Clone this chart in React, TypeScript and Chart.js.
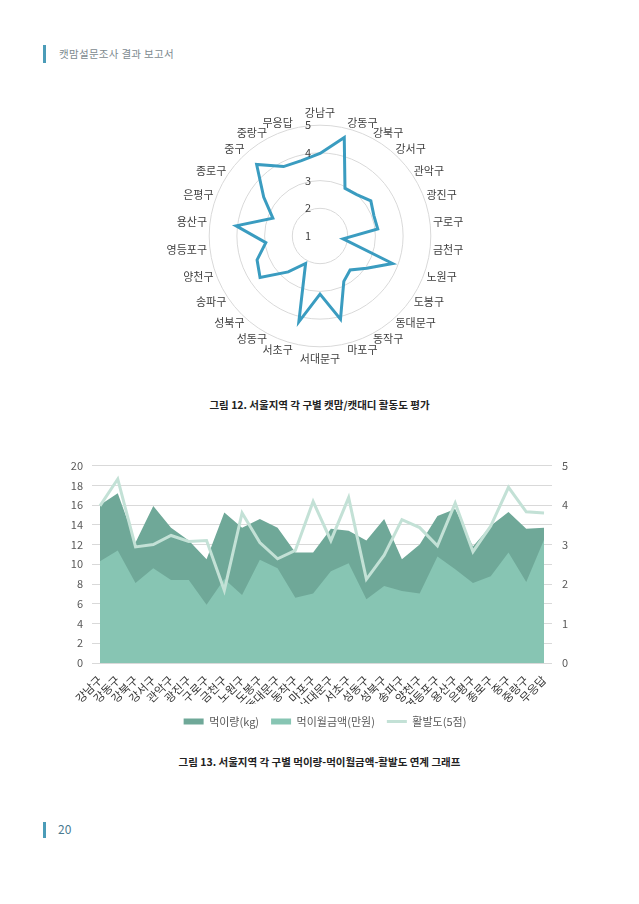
import React, { useEffect, useRef } from "react";
import { Chart, registerables } from "chart.js";

Chart.register(...registerables);

const districts = [
  "강남구", "강동구", "강북구", "강서구", "관악구", "광진구", "구로구", "금천구", "노원구",
  "도봉구", "동대문구", "동작구", "마포구", "서대문구", "서초구", "성동구", "성북구", "송파구",
  "양천구", "영등포구", "용산구", "은평구", "종로구", "중구", "중랑구", "무응답",
];

const feedKg = [
  16.0, 17.2, 12.2, 15.9, 13.7, 12.4, 10.5, 15.25, 13.7, 14.6, 13.7, 11.2, 11.2,
  13.6, 13.4, 12.4, 14.6, 10.5, 12.0, 14.9, 15.6, 11.8, 13.9, 15.3, 13.6, 13.7,
];

const feedCost = [
  10.3, 11.4, 8.1, 9.6, 8.4, 8.4, 5.9, 8.5, 6.9, 10.45, 9.6, 6.6, 7.05,
  9.3, 10.1, 6.45, 7.8, 7.3, 7.05, 10.8, 9.5, 8.1, 8.8, 11.2, 8.2, 12.5,
];

const activity = [
  3.98, 4.66, 2.94, 3.0, 3.23, 3.08, 3.1, 1.84, 3.8, 3.05, 2.64, 2.85, 4.09,
  3.1, 4.19, 2.12, 2.73, 3.63, 3.43, 2.97, 4.05, 2.82, 3.47, 4.45, 3.83, 3.8,
];

const radarTicks = [1, 2, 3, 4, 5];

const seriesNames = ["먹이량(kg)", "먹이월금액(만원)", "활발도(5점)"];

const FONT = "'Noto Sans CJK KR', 'Noto Sans', sans-serif";

function RadarChart() {
  const ref = useRef<HTMLCanvasElement | null>(null);
  useEffect(() => {
    if (!ref.current) return;
    const labelPlugin = {
      id: "radarLabels",
      afterDraw(chart: any) {
        const s = chart.scales.r;
        const ctx = chart.ctx;
        ctx.save();
        ctx.font = `11px ${FONT}`;
        ctx.fillStyle = "#404040";
        ctx.textAlign = "center";
        ctx.textBaseline = "middle";
        radarTicks.forEach((v) => {
          const d = s.getDistanceFromCenterForValue(v);
          ctx.fillText(String(v), s.xCenter - 12, s.yCenter - d);
        });
        // point labels hugging the outer ring
        const h = 12;
        districts.forEach((name, i) => {
          const pos = s.getPointPosition(i, s.drawingArea + 3);
          const a = s.getIndexAngle(i);
          const sn = Math.sin(a);
          const cs = Math.cos(a);
          const centred = Math.abs(sn) <= 0.05;
          ctx.textAlign = centred ? "center" : sn > 0 ? "left" : "right";
          const y = centred
            ? pos.y - cs * (h / 2 + 3)
            : pos.y - (cs * Math.abs(cs) * h) / 4;
          ctx.fillText(name, pos.x, y);
        });
        ctx.restore();
      },
    };
    const chart = new Chart(ref.current, {
      type: "radar",
      data: {
        labels: districts,
        datasets: [
          {
            label: seriesNames[2],
            data: activity,
            borderColor: "#3a9cc0",
            borderWidth: 3,
            fill: false,
            pointRadius: 0,
            borderJoinStyle: "miter",
          } as any,
        ],
      },
      options: {
        animation: false,
        responsive: false,
        plugins: { legend: { display: false }, tooltip: { enabled: false } },
        scales: {
          r: {
            min: 1,
            max: 5,
            ticks: { stepSize: 1, display: false },
            grid: { color: "#d9d9d9", lineWidth: 1, circular: true },
            angleLines: { display: false },
            pointLabels: {
              font: { family: FONT, size: 11 },
              color: "rgba(0,0,0,0)",
              padding: 7,
            },
          },
        },
      } as any,
      plugins: [labelPlugin],
    });
    return () => chart.destroy();
  }, []);
  return (
    <canvas
      ref={ref}
      width={350}
      height={262}
      style={{ position: "absolute", left: 144, top: 105, width: 350, height: 262 }}
    />
  );
}

function AreaChart() {
  const ref = useRef<HTMLCanvasElement | null>(null);
  useEffect(() => {
    if (!ref.current) return;
    const tickFont = { family: FONT, size: 11 };
    const chart = new Chart(ref.current, {
      type: "line",
      data: {
        datasets: [
          {
            label: seriesNames[0],
            data: feedKg.map((v, i) => ({ x: i, y: v })),
            yAxisID: "y",
            backgroundColor: "#6fa898",
            borderColor: "#6fa898",
            borderWidth: 0,
            fill: "origin",
            pointRadius: 0,
            pointStyle: "rect",
            order: 3,
          },
          {
            label: seriesNames[1],
            data: feedCost.map((v, i) => ({ x: i, y: v })),
            yAxisID: "y",
            backgroundColor: "#87c5b3",
            borderColor: "#87c5b3",
            borderWidth: 0,
            fill: "origin",
            pointRadius: 0,
            pointStyle: "rect",
            order: 2,
          },
          {
            label: seriesNames[2],
            data: activity.map((v, i) => ({ x: i, y: v })),
            yAxisID: "y2",
            backgroundColor: "#c3e1d6",
            borderColor: "#c3e1d6",
            borderWidth: 3,
            fill: false,
            pointRadius: 0,
            pointStyle: "line",
            borderJoinStyle: "miter",
            order: 1,
          },
        ] as any,
      },
      options: {
        animation: false,
        responsive: false,
        layout: { padding: { top: 4, left: 0, right: 0, bottom: 0 } },
        plugins: {
          tooltip: { enabled: false },
          legend: {
            position: "bottom",
            labels: {
              usePointStyle: true,
              pointStyleWidth: 20,
              boxHeight: 6,
              font: { family: FONT, size: 11 },
              color: "#595959",
              padding: 12,
              sort: (a: any, b: any) => a.datasetIndex - b.datasetIndex,
            },
          },
        },
        scales: {
          x: {
            type: "linear",
            min: -0.45,
            max: 25.45,
            grid: { display: false },
            border: { display: false },
            afterBuildTicks: (s: any) => {
              s.ticks = districts.map((_, i) => ({ value: i }));
            },
            ticks: {
              autoSkip: false,
              maxRotation: 45,
              minRotation: 45,
              padding: 2,
              font: { family: FONT, size: 11.5 },
              color: "#333333",
              callback: (v: any) => districts[v] ?? "",
            },
            afterFit: (s: any) => {
              s.height = 41;
            },
          },
          y: {
            position: "left",
            min: 0,
            max: 20,
            ticks: { stepSize: 2, font: tickFont, color: "#595959", padding: 9 },
            grid: { color: "#d9d9d9", drawTicks: false },
            border: { display: false },
            afterFit: (s: any) => {
              s.width = 32;
            },
          },
          y2: {
            position: "right",
            min: 0,
            max: 5,
            ticks: { stepSize: 1, font: tickFont, color: "#595959", padding: 10 },
            grid: { display: false, drawTicks: false },
            border: { display: false },
            afterFit: (s: any) => {
              s.width = 38;
            },
          },
        },
      } as any,
    });
    return () => chart.destroy();
  }, []);
  return (
    <canvas
      ref={ref}
      width={530}
      height={288}
      style={{ position: "absolute", left: 60, top: 449, width: 530, height: 288 }}
    />
  );
}

export default function App() {
  return (
    <div
      style={{
        position: "absolute",
        left: 0,
        top: 0,
        width: 639,
        height: 904,
        background: "#ffffff",
        overflow: "hidden",
        fontFamily: FONT,
      }}
    >
      <div style={{ position: "absolute", left: 43, top: 45, width: 3, height: 18, background: "#4b9cb8" }} />
      <div
        style={{
          position: "absolute",
          left: 59,
          top: 45,
          height: 18,
          lineHeight: "18px",
          fontSize: 10.5,
          color: "#7d8a8f",
          letterSpacing: 0.3,
          whiteSpace: "nowrap",
        }}
      >
        캣맘설문조사 결과 보고서
      </div>

      <RadarChart />

      <div
        style={{
          position: "absolute",
          left: 0,
          width: 639,
          top: 396,
          lineHeight: "18px",
          textAlign: "center",
          fontSize: 10.5,
          fontWeight: 700,
          color: "#222222",
          whiteSpace: "nowrap",
        }}
      >
        그림 12. 서울지역 각 구별 캣맘/캣대디 활동도 평가
      </div>

      <AreaChart />

      <div
        style={{
          position: "absolute",
          left: 0,
          width: 639,
          top: 753,
          lineHeight: "18px",
          textAlign: "center",
          fontSize: 10.5,
          fontWeight: 700,
          color: "#222222",
          whiteSpace: "nowrap",
        }}
      >
        그림 13. 서울지역 각 구별 먹이량-먹이월금액-활발도 연계 그래프
      </div>

      <div style={{ position: "absolute", left: 43, top: 822, width: 3, height: 16, background: "#4b9cb8" }} />
      <div
        style={{
          position: "absolute",
          left: 58,
          top: 820,
          lineHeight: "18px",
          fontSize: 12,
          color: "#4a7a90",
        }}
      >
        20
      </div>
    </div>
  );
}
